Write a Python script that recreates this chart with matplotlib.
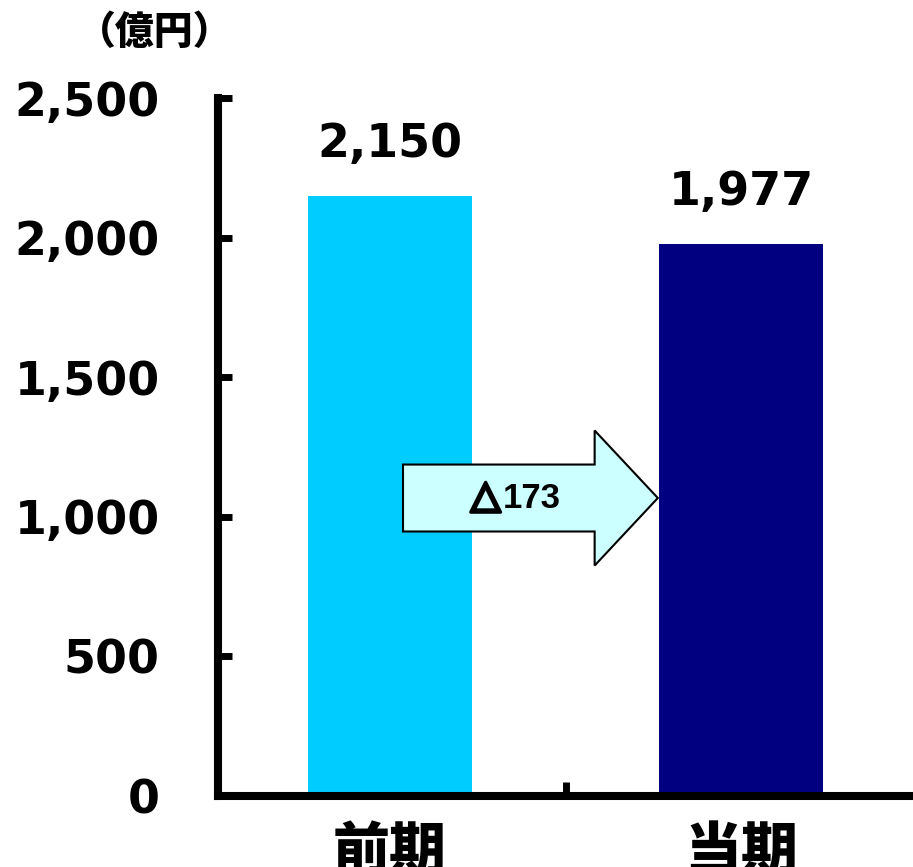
import matplotlib.pyplot as plt
import matplotlib.patheffects as pe
from matplotlib.patches import FancyArrow

# data
categories = ['前期', '当期']
values = [2150, 1977]
colors = ['#00CCFF', '#000080']
yticks = [0, 500, 1000, 1500, 2000, 2500]
ytick_labels = ['0', '500', '1,000', '1,500', '2,000', '2,500']
unit_label = '（億円）'

fig = plt.figure(figsize=(9.13, 8.67), dpi=100)
ax = fig.add_axes([0.2388, 0.0819, 0.7612, 0.8045])

x = list(range(len(categories)))
ax.bar(x, values, width=0.47, color=colors, zorder=2)

ax.set_xlim(-0.49, 1.49)
ax.set_ylim(0, 2500)

# spines
for s in ['top', 'right']:
    ax.spines[s].set_visible(False)
for s in ['left', 'bottom']:
    ax.spines[s].set_linewidth(5.8)
    ax.spines[s].set_capstyle('projecting')

ax.set_yticks(yticks)
ax.set_yticklabels(ytick_labels, fontsize=33, fontweight='heavy', family='DejaVu Sans')
ax.tick_params(axis='y', direction='in', length=10, width=5, pad=42)

ax.set_xticks(x)
ax.set_xticklabels(categories, fontsize=41, fontweight='heavy', family='Noto Sans CJK JP')
ax.tick_params(axis='x', length=0, pad=20)
ax.set_xticks([0.5], minor=True)
ax.tick_params(axis='x', which='minor', direction='in', length=10, width=5)

# value labels
for xi, v in zip(x, values):
    ax.text(xi, v + 105, f'{v:,}', ha='center', va='bottom', fontsize=33,
            fontweight='heavy', family='DejaVu Sans')

# change arrow
diff = values[0] - values[1]
ax_start = x[0] + 0.037
ax_end = x[1] - 0.237
arr = FancyArrow(ax_start, 1068, ax_end - ax_start, 0, width=240, head_width=484,
                 head_length=0.18, length_includes_head=True,
                 facecolor='#CCFFFF', edgecolor='black', linewidth=1.5, zorder=3)
ax.add_patch(arr)
split = ax_start + 0.278
ax.text(split, 1074, '△', ha='right', va='center', fontsize=28,
        fontweight='bold', family='DejaVu Sans', zorder=4,
        path_effects=[pe.withStroke(linewidth=2.4, foreground='black')])
ax.text(split + 0.005, 1068, f'{diff}', ha='left', va='center', fontsize=25,
        fontweight='bold', family='Liberation Sans', zorder=4)

fig.text(155 / 913, 1 - 32 / 867, unit_label, ha='center', va='center', fontsize=28,
         fontweight='heavy', family='Noto Sans CJK JP')

fig.savefig('out.png', dpi=100)
